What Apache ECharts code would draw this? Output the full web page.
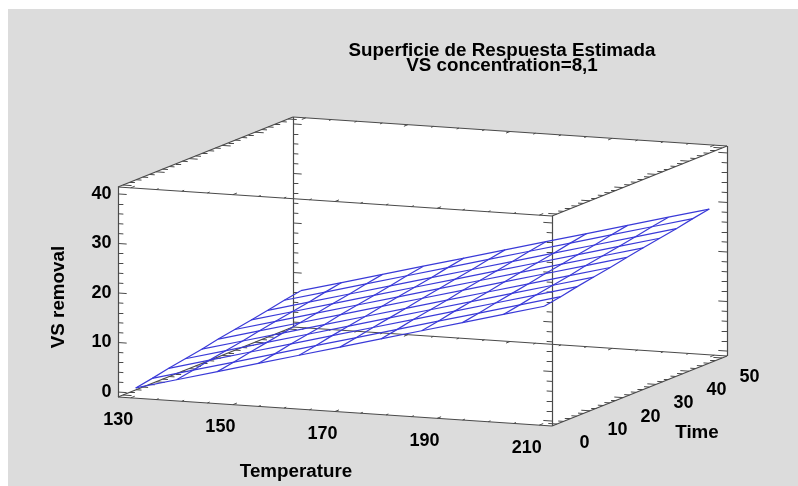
<!DOCTYPE html>
<html>
<head>
<meta charset="utf-8">
<style>html,body{margin:0;padding:0;background:#fff}#chart{width:798px;height:486px}</style>
<script src="https://cdn.jsdelivr.net/npm/echarts@6/dist/echarts.min.js"></script>
</head>
<body>
<div id="chart"></div>
<script>
// ---- data ----
const titleLines = ['Superficie de Respuesta Estimada', 'VS concentration=8,1'];
const temperatureGrid = [130, 138, 146, 154, 162, 170, 178, 186, 194, 202, 210];
const timeGrid = [0, 5, 10, 15, 20, 25, 30, 35, 40, 45, 50];
// one row per time value, one column per temperature value
const vsRemoval0  = [0.6, 2.8, 5.0, 7.2, 9.4, 11.6, 13.8, 16.0, 18.2, 20.4, 22.6];
const vsRemoval5  = [1.2, 3.4, 5.6, 7.8, 10.0, 12.2, 14.4, 16.6, 18.8, 21.0, 23.2];
const vsRemoval10 = [1.9, 4.1, 6.3, 8.5, 10.7, 12.9, 15.1, 17.3, 19.5, 21.7, 23.9];
const vsRemoval15 = [2.5, 4.7, 6.9, 9.1, 11.3, 13.5, 15.7, 17.9, 20.1, 22.3, 24.5];
const vsRemoval20 = [3.1, 5.3, 7.5, 9.7, 11.9, 14.1, 16.3, 18.5, 20.7, 22.9, 25.1];
const vsRemoval25 = [3.8, 6.0, 8.2, 10.4, 12.6, 14.8, 17.0, 19.2, 21.4, 23.6, 25.8];
const vsRemoval30 = [4.4, 6.6, 8.8, 11.0, 13.2, 15.4, 17.6, 19.8, 22.0, 24.2, 26.4];
const vsRemoval35 = [5.0, 7.2, 9.4, 11.6, 13.8, 16.0, 18.2, 20.4, 22.6, 24.8, 27.0];
const vsRemoval40 = [5.6, 7.8, 10.0, 12.2, 14.4, 16.6, 18.8, 21.0, 23.2, 25.4, 27.6];
const vsRemoval45 = [6.3, 8.5, 10.7, 12.9, 15.1, 17.3, 19.5, 21.7, 23.9, 26.1, 28.3];
const vsRemoval50 = [6.9, 9.1, 11.3, 13.5, 15.7, 17.9, 20.1, 22.3, 24.5, 26.7, 28.9];
const surfaceRows = [vsRemoval0, vsRemoval5, vsRemoval10, vsRemoval15, vsRemoval20, vsRemoval25,
                     vsRemoval30, vsRemoval35, vsRemoval40, vsRemoval45, vsRemoval50];
const temperatureLabels = [130, 150, 170, 190, 210];
const temperatureMinor = [135, 140, 145, 155, 160, 165, 175, 180, 185, 195, 200, 205];
const timeLabels = [0, 10, 20, 30, 40, 50];
const timeMinor = [2, 4, 6, 8, 12, 14, 16, 18, 22, 24, 26, 28, 32, 34, 36, 38, 42, 44, 46, 48];
const removalLabels = [0, 10, 20, 30, 40];
const removalMinor = [2, 4, 6, 8, 12, 14, 16, 18, 22, 24, 26, 28, 32, 34, 36, 38];
// extents of the drawn box
const temperatureRange = [127.5, 212.5];
const timeRange = [-1.5, 51.5];
const removalRange = [-1, 41.4];

// ---- oblique projection of the 3D box onto hidden 2D axes ----
const WIDTH = 798, HEIGHT = 486;
function project(T, t, z) {
  const u = (T - temperatureRange[0]) / (temperatureRange[1] - temperatureRange[0]);
  const v = (t - timeRange[0]) / (timeRange[1] - timeRange[0]);
  const w = (z - removalRange[0]) / (removalRange[1] - removalRange[0]);
  return [118 + 434 * u + 175 * v, 397 + 29 * u - 70 * v - 210 * w];
}
const [T0, T1] = temperatureRange, [t0, t1] = timeRange, [z0, z1] = removalRange;

const BOX = '#4a4a4a', BLUE = '#3a3ad8', INK = '#000000';
const series = [];

// white walls of the box
series.push({
  type: 'custom', coordinateSystem: 'cartesian2d', silent: true, z: 1, clip: false,
  data: [[T0, t0, z1]],
  renderItem(params, api) {
    const pts = [[T0, t0, z1], [T0, t1, z1], [T1, t1, z1], [T1, t1, z0], [T1, t0, z0], [T0, t0, z0]]
      .map(p => api.coord(project(p[0], p[1], p[2])));
    return { type: 'polygon', shape: { points: pts }, style: { fill: '#ffffff' } };
  }
});

// box edges
const edges = [
  [[T0, t0, z0], [T1, t0, z0]], [[T0, t1, z0], [T1, t1, z0]], [[T0, t0, z1], [T1, t0, z1]], [[T0, t1, z1], [T1, t1, z1]],
  [[T0, t0, z0], [T0, t1, z0]], [[T1, t0, z0], [T1, t1, z0]], [[T0, t0, z1], [T0, t1, z1]], [[T1, t0, z1], [T1, t1, z1]],
  [[T0, t0, z0], [T0, t0, z1]], [[T0, t1, z0], [T0, t1, z1]], [[T1, t0, z0], [T1, t0, z1]], [[T1, t1, z0], [T1, t1, z1]]
];
series.push({
  type: 'lines', coordinateSystem: 'cartesian2d', silent: true, z: 2, polyline: false,
  lineStyle: { color: BOX, width: 1.2, opacity: 1 },
  data: edges.map(e => ({ coords: [project(...e[0]), project(...e[1])] }))
});

// ticks
const ticks = [];
function removalTicks(list, len) {
  list.forEach(z => {
    ticks.push({ coords: [project(T0, t0, z), project(T0 + len, t0, z)] });
    ticks.push({ coords: [project(T0, t1, z), project(T0 + len, t1, z)] });
    ticks.push({ coords: [project(T1, t0, z), project(T1 - len, t0, z)] });
    ticks.push({ coords: [project(T1, t1, z), project(T1 - len, t1, z)] });
  });
}
function timeTicks(list, len) {
  list.forEach(t => {
    [z0, z1].forEach(z => {
      ticks.push({ coords: [project(T0, t, z), project(T0 + len, t, z)] });
      ticks.push({ coords: [project(T1, t, z), project(T1 - len, t, z)] });
    });
  });
}
function temperatureTicks(list, len) {
  list.forEach(T => {
    [z0, z1].forEach(z => {
      ticks.push({ coords: [project(T, t0, z), project(T, t0 + len, z)] });
      ticks.push({ coords: [project(T, t1, z), project(T, t1 - len, z)] });
    });
  });
}
removalTicks(removalLabels, 1.7); removalTicks(removalMinor, 1.05);
timeTicks(timeLabels, 1.7); timeTicks(timeMinor, 1.05);
temperatureTicks(temperatureLabels, 1.2); temperatureTicks(temperatureMinor, 0.7);
series.push({
  type: 'lines', coordinateSystem: 'cartesian2d', silent: true, z: 3,
  lineStyle: { color: BOX, width: 1, opacity: 1 },
  data: ticks
});

// response surface mesh
surfaceRows.forEach((row, i) => {
  series.push({
    type: 'line', silent: true, z: 4, showSymbol: false, symbol: 'none', animation: false,
    lineStyle: { color: BLUE, width: 1.2 },
    data: row.map((z, j) => project(temperatureGrid[j], timeGrid[i], z))
  });
});
temperatureGrid.forEach((T, j) => {
  series.push({
    type: 'line', silent: true, z: 4, showSymbol: false, symbol: 'none', animation: false,
    lineStyle: { color: BLUE, width: 1.2 },
    data: surfaceRows.map((row, i) => project(T, timeGrid[i], row[j]))
  });
});

// text labels placed through the same axes
function labelSeries(items, fontSize, extra) {
  return {
    type: 'scatter', silent: true, z: 5, symbolSize: 1, itemStyle: { color: 'rgba(0,0,0,0)' },
    label: Object.assign({
      show: true, position: 'inside', color: INK, opacity: 1, fontFamily: 'Liberation Sans',
      fontWeight: 'bold', fontSize, formatter: p => p.data.text
    }, extra || {}),
    emphasis: { disabled: true },
    data: items
  };
}
function shifted(p, dx, dy) { return [p[0] + dx, p[1] + dy]; }
series.push(labelSeries(temperatureLabels.map(T => ({
  value: shifted(project(T, t0, z0), -12.5, 22.5), text: String(T)
})), 18));
series.push(labelSeries(timeLabels.map(t => ({
  value: shifted(project(T1, t, z0), 27.5, 19), text: String(t)
})), 18));
series.push(labelSeries(removalLabels.map(z => ({
  value: shifted(project(T0, t0, z), -6, 0), text: String(z)
})), 18, { position: 'left', distance: 0 }));
series.push(labelSeries([{ value: [296, 472], text: 'Temperature' }], 18.8));
series.push(labelSeries([{ value: [697, 433], text: 'Time' }], 18.8));
series.push(labelSeries([{ value: [59, 297], text: 'VS removal' }], 18.8, { rotate: 90 }));

const chart = echarts.init(document.getElementById('chart'), null, { width: WIDTH, height: HEIGHT });
chart.setOption({
  animation: false,
  backgroundColor: '#ffffff',
  title: {
    text: titleLines.join('\n'), left: 497, top: 38, textAlign: 'center',
    textStyle: { fontFamily: 'Liberation Sans', fontWeight: 'bold', fontSize: 18.8, lineHeight: 15, color: INK }
  },
  graphic: [{ type: 'rect', z: -10, silent: true, shape: { x: 8, y: 9, width: 790, height: 477 }, style: { fill: '#dcdcdc' } }],
  grid: { left: 0, right: 0, top: 0, bottom: 0 },
  xAxis: { type: 'value', min: 0, max: WIDTH, show: false },
  yAxis: { type: 'value', min: 0, max: HEIGHT, inverse: true, show: false },
  series
});
</script>
</body>
</html>
